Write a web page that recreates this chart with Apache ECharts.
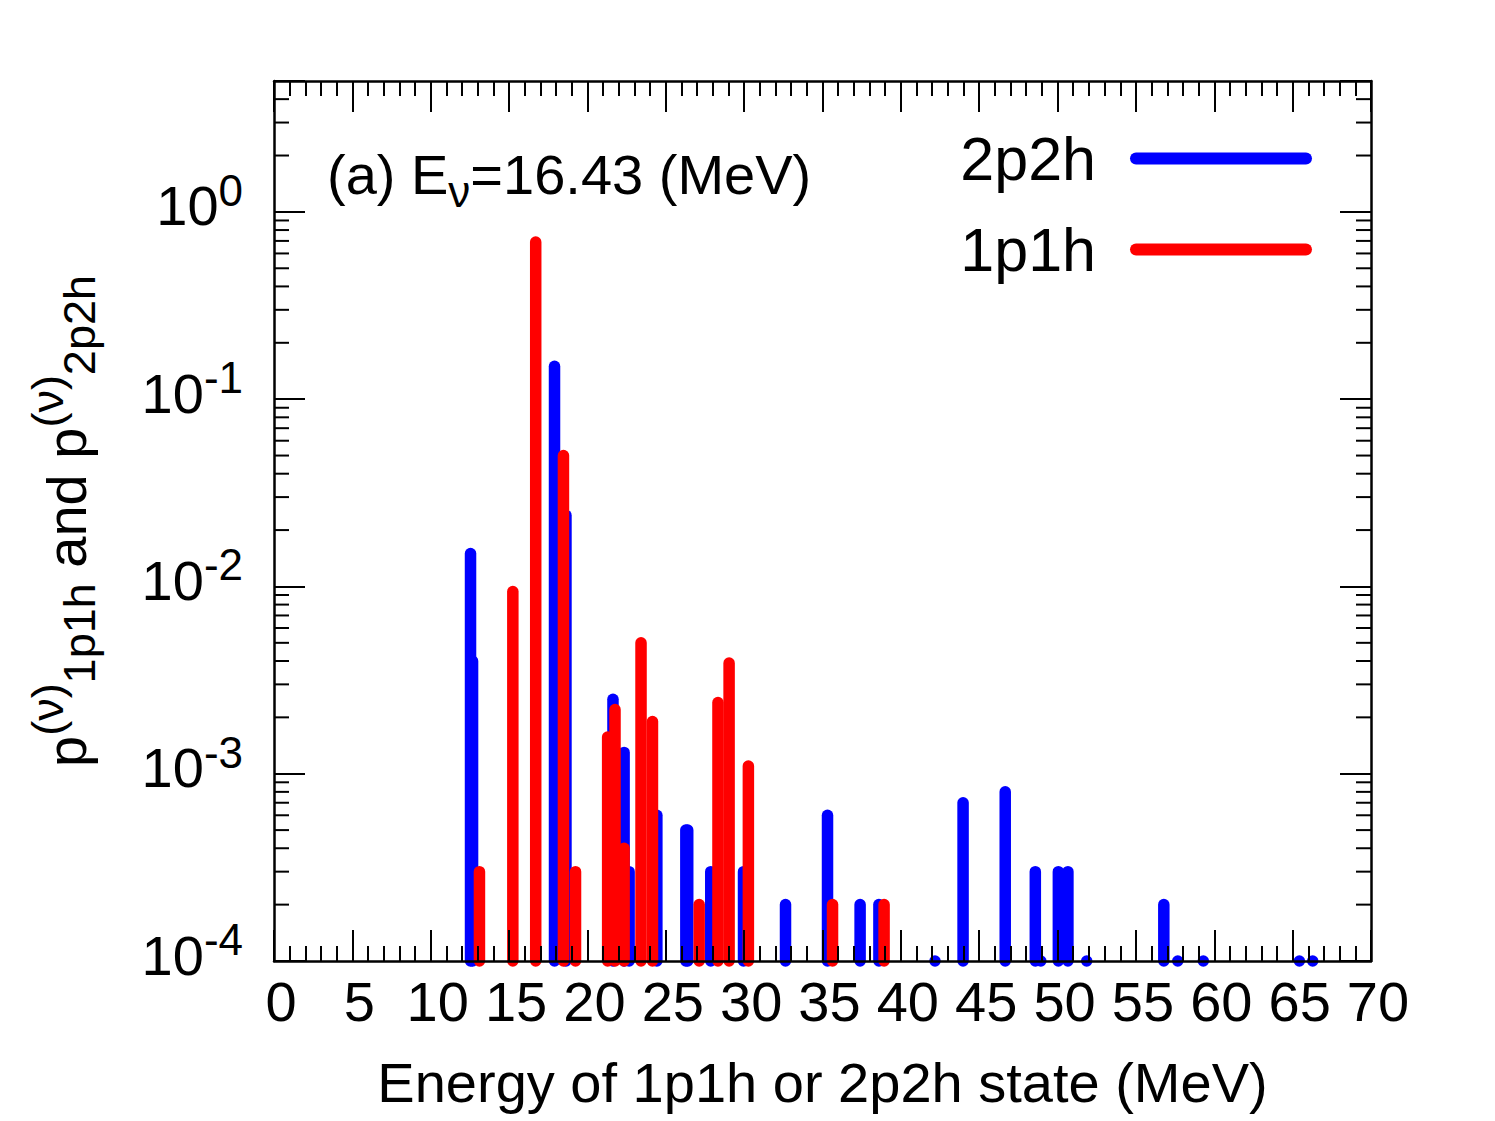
<!DOCTYPE html>
<html><head><meta charset="utf-8">
<script src="https://cdn.jsdelivr.net/npm/echarts@6/dist/echarts.min.js"></script>
<style>html,body{margin:0;padding:0;background:#fff}#c{width:1495px;height:1121px}</style>
</head><body><div id="c"></div>
<script>
const FONT = "'Liberation Sans', Arial, Helvetica, sans-serif";
const X_MIN = 0, X_MAX = 70, X_INTERVAL = 5;
const Y_MIN = 1e-4, Y_MAX = 5;

// 2p2h (blue)
const energy2p2h = [12.54, 12.67, 17.9, 18.63, 21.63, 22.34, 22.66, 24.43, 26.28, 26.4, 27.87, 29.96, 32.64, 35.32, 37.4, 38.6, 42.18, 43.97, 46.66, 48.58, 48.93, 50.05, 50.66, 51.86, 56.78, 57.67, 59.3, 65.43, 66.28];
const prob2p2h   = [0.015, 0.004, 0.15, 0.024, 0.0025, 0.0013, 0.0003, 0.0006, 0.0005, 0.0005, 0.0003, 0.0003, 0.0002, 0.0006, 0.0002, 0.0002, 0.0001, 0.0007, 0.0008, 0.0003, 0.0001, 0.0003, 0.0003, 0.0001, 0.0002, 0.0001, 0.0001, 0.0001, 0.0001];

// 1p1h (red)
const energy1p1h = [13.11, 15.24, 16.7, 18.47, 19.24, 21.29, 21.76, 22.34, 23.42, 24.15, 27.13, 28.33, 29.04, 30.27, 35.64, 38.93];
const prob1p1h   = [0.0003, 0.0094, 0.69, 0.05, 0.0003, 0.00157, 0.0022, 0.0004, 0.005, 0.0019, 0.0002, 0.0024, 0.0039, 0.0011, 0.0002, 0.0002];

const seriesNames = ['2p2h', '1p1h'];
const seriesColors = ['#0000ff', '#ff0000'];

// minor log ticks (2..9 x 10^n)
const yMinorTicks = [];
for (let e = -4; e <= 0; e++) for (let m = 2; m <= 9; m++) { const v = m * Math.pow(10, e); if (v < Y_MAX) yMinorTicks.push(v); }

const data2p2h = energy2p2h.map((x, i) => [x, prob2p2h[i]]);
const data1p1h = energy1p1h.map((x, i) => [x, prob1p1h[i]]);

const BAR_W = 11.5;
function barRender(color) {
  return function (params, api) {
    const x = api.value(0), v = api.value(1);
    const top = api.coord([x, v]);
    const base = api.coord([x, Y_MIN]);
    return {
      type: 'rect',
      shape: { x: top[0] - BAR_W / 2, y: top[1] - BAR_W / 2, width: BAR_W, height: base[1] - top[1] + BAR_W, r: BAR_W / 2 },
      style: { fill: color }
    };
  };
}
function tickRender(params, api) {
  const v = api.value(1);
  const l = api.coord([X_MIN, v]), r = api.coord([X_MAX, v]);
  return { type: 'group', children: [
    { type: 'line', shape: { x1: l[0], y1: l[1], x2: l[0] + 15, y2: l[1] }, style: { stroke: '#000', lineWidth: 2 } },
    { type: 'line', shape: { x1: r[0] - 15, y1: r[1], x2: r[0], y2: r[1] }, style: { stroke: '#000', lineWidth: 2 } }
  ]};
}

const axisLine = { onZero: false, lineStyle: { color: '#000', width: 2.5 } };
const axisTick = { inside: true, length: 31, lineStyle: { color: '#000', width: 2 } };
const minorTick = { show: true, splitNumber: 5, length: 15, lineStyle: { color: '#000', width: 2 } };
const CAPSULE = 'path://M6,0L176,0A6,6,0,0,1,176,12L6,12A6,6,0,0,1,6,0Z';

const chart = echarts.init(document.getElementById('c'), null, { renderer: 'svg' });
chart.setOption({
  animation: false,
  backgroundColor: '#fff',
  textStyle: { fontFamily: FONT },
  grid: { left: 274, right: 124, top: 81, bottom: 160, containLabel: false, outerBoundsMode: 'none' },
  xAxis: [
    { type: 'value', min: X_MIN, max: X_MAX, interval: X_INTERVAL, position: 'bottom', z: 10,
      axisLine, axisTick, minorTick, splitLine: { show: false }, minorSplitLine: { show: false },
      axisLabel: { fontSize: 56, fontFamily: FONT, color: '#000', margin: 12, lineHeight: 56, padding: [0, 0, 0, 14] },
      name: 'Energy of 1p1h or 2p2h state (MeV)', nameLocation: 'middle', nameGap: 93,
      nameTextStyle: { fontSize: 56, lineHeight: 56, color: '#000', fontFamily: FONT } },
    { type: 'value', min: X_MIN, max: X_MAX, interval: X_INTERVAL, position: 'top', z: 10,
      axisLine, axisTick, minorTick, splitLine: { show: false }, minorSplitLine: { show: false },
      axisLabel: { show: false } }
  ],
  yAxis: [
    { type: 'log', logBase: 10, min: Y_MIN, max: Y_MAX, position: 'left', z: 10,
      axisLine, axisTick, splitLine: { show: false },
      axisLabel: {
        margin: 31, showMinLabel: true, color: '#000', fontFamily: FONT, fontSize: 56,
        formatter: function (v) {
          const e = Math.log10(v), r = Math.round(e);
          if (Math.abs(e - r) > 1e-6) return '';
          return '{b|10}{s|' + r + '}';
        },
        rich: {
          b: { fontSize: 56, fontFamily: FONT, color: '#000', lineHeight: 56, height: 44, verticalAlign: 'top' },
          s: { fontSize: 44, fontFamily: FONT, color: '#000', height: 13, verticalAlign: 'top' }
        }
      },
      name: '{b|p}{sp|(ν)}{sb|1p1h}{b| and p}{sp|(ν)}{sb|2p2h}',
      nameLocation: 'middle', nameRotate: 90, nameGap: 180,
      nameTextStyle: {
        color: '#000', fontFamily: FONT, fontSize: 56, lineHeight: 56,
        rich: {
          b: { fontSize: 56, fontFamily: FONT, color: '#000', lineHeight: 56, height: 56, verticalAlign: 'middle' },
          sp: { fontSize: 45, fontFamily: FONT, color: '#000', height: 18, verticalAlign: 'top' },
          sb: { fontSize: 45, fontFamily: FONT, color: '#000', height: 30, verticalAlign: 'bottom' }
        }
      } },
    { type: 'log', logBase: 10, min: Y_MIN, max: Y_MAX, position: 'right', z: 10,
      axisLine, axisTick, splitLine: { show: false }, axisLabel: { show: false } }
  ],
  legend: {
    data: [{ name: seriesNames[0], icon: CAPSULE }, { name: seriesNames[1], icon: CAPSULE }],
    orient: 'vertical', align: 'right', right: 183, top: 128, padding: 0,
    itemWidth: 182, itemHeight: 12, itemGap: 30, selectedMode: false,
    textStyle: { fontSize: 61, lineHeight: 60, color: '#000', fontFamily: FONT, padding: [0, 29, 0, 0] }
  },
  graphic: [{
    type: 'text', x: 327, y: 174, z: 20,
    style: {
      text: '{n|(a) E}{s|ν}{n|=16.43 (MeV)}',
      fill: '#000', verticalAlign: 'middle', align: 'left',
      rich: {
        n: { fontSize: 56, fontFamily: FONT, fill: '#000', lineHeight: 56, height: 56, verticalAlign: 'middle' },
        s: { fontSize: 44, fontFamily: FONT, fill: '#000', height: 22, verticalAlign: 'bottom' }
      }
    }
  }],
  series: [
    { name: seriesNames[0], type: 'custom', data: data2p2h, encode: { x: 0, y: 1 }, renderItem: barRender(seriesColors[0]),
      itemStyle: { color: seriesColors[0] }, z: 2 },
    { name: seriesNames[1], type: 'custom', data: data1p1h, encode: { x: 0, y: 1 }, renderItem: barRender(seriesColors[1]),
      itemStyle: { color: seriesColors[1] }, z: 3 },
    { name: 'minorTicks', type: 'custom', data: yMinorTicks.map(v => [X_MIN, v]), encode: { x: 0, y: 1 },
      renderItem: tickRender, silent: true, z: 12 }
  ]
});
</script></body></html>
